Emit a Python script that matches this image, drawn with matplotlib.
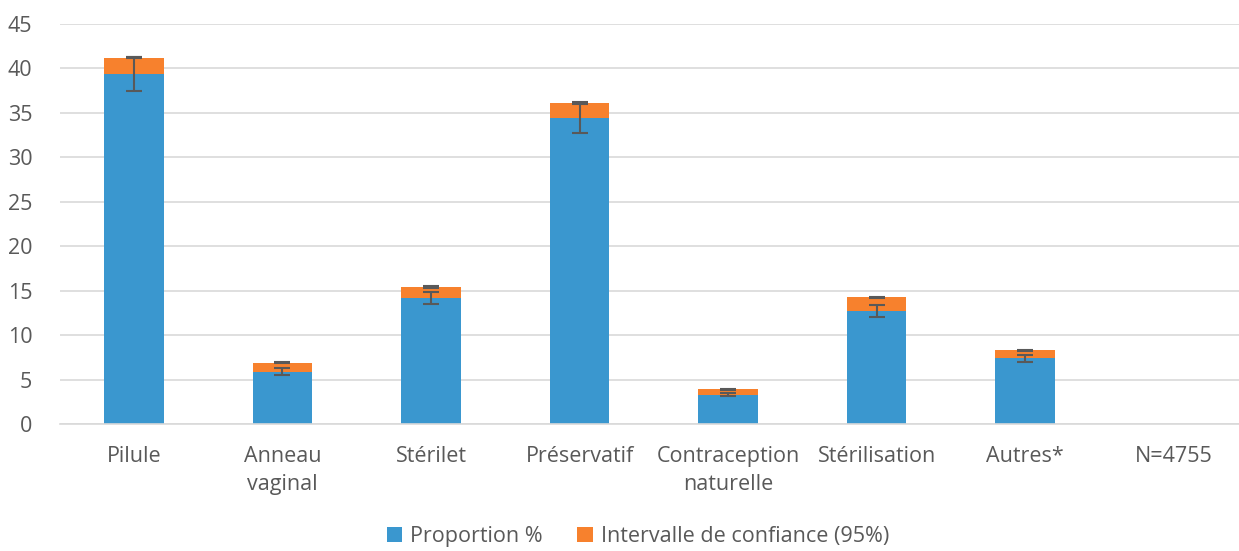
import matplotlib.pyplot as plt
import numpy as np

plt.rcParams['font.family'] = ['Open Sans', 'DejaVu Sans']

categories = ['Pilule', 'Anneau\nvaginal', 'Stérilet', 'Préservatif',
              'Contraception\nnaturelle', 'Stérilisation', 'Autres*', 'N=4755']
proportion = [39.4, 5.9, 14.2, 34.4, 3.3, 12.7, 7.4, 0]
intervalle = [1.8, 1.0, 1.2, 1.7, 0.6, 1.55, 0.9, 0]
erreur = [1.9, 0.4, 0.7, 1.7, 0.2, 0.65, 0.4, 0]

bleu = '#3A97CF'
orange = '#F7812D'
gris = '#595959'

x = np.arange(len(categories))
prop = np.array(proportion)
ic = np.array(intervalle)
err = np.array(erreur)

fig = plt.figure(figsize=(12.39, 5.51), dpi=100)
ax = fig.add_axes([60/1239, 1-424/551, 1-60/1239, 400/551])

ax.bar(x, prop, width=0.4, color=bleu, label='Proportion %', zorder=2)
ax.bar(x, ic, width=0.4, bottom=prop, color=orange,
       label='Intervalle de confiance (95%)', zorder=2)

m = prop > 0
# barres d'erreur sur la proportion
ax.errorbar(x[m], prop[m], yerr=err[m], fmt='none', ecolor=gris,
            elinewidth=1.5, capsize=6, capthick=1.5, zorder=3)
# petit trait au sommet de l'intervalle
ax.errorbar(x[m], (prop + ic)[m], yerr=0.08, fmt='none', ecolor=gris,
            elinewidth=1.5, capsize=6, capthick=1.5, zorder=3)

ax.set_ylim(0, 45)
ax.set_xlim(-0.498, 7.44)
ax.set_yticks(np.arange(0, 46, 5))
ax.set_xticks(x)
ax.set_xticklabels(categories, fontsize=15.5, color=gris, linespacing=1.45)
ax.tick_params(axis='y', labelsize=15.5, labelcolor=gris, length=0, pad=20)
ax.tick_params(axis='x', length=0, pad=16)
ax.grid(axis='y', color='#D9D9D9', linewidth=1.2, zorder=0)
for s in ['top', 'right', 'left']:
    ax.spines[s].set_visible(False)
ax.spines['bottom'].set_color('#D9D9D9')
ax.spines['bottom'].set_linewidth(1.2)

fig.legend(loc='lower center', bbox_to_anchor=(0.515, -0.028), ncol=2,
           frameon=False, fontsize=15.5, handlelength=0.7, handleheight=0.7,
           columnspacing=1.6, handletextpad=0.4, labelcolor=gris)

plt.savefig('out.png', dpi=100)
